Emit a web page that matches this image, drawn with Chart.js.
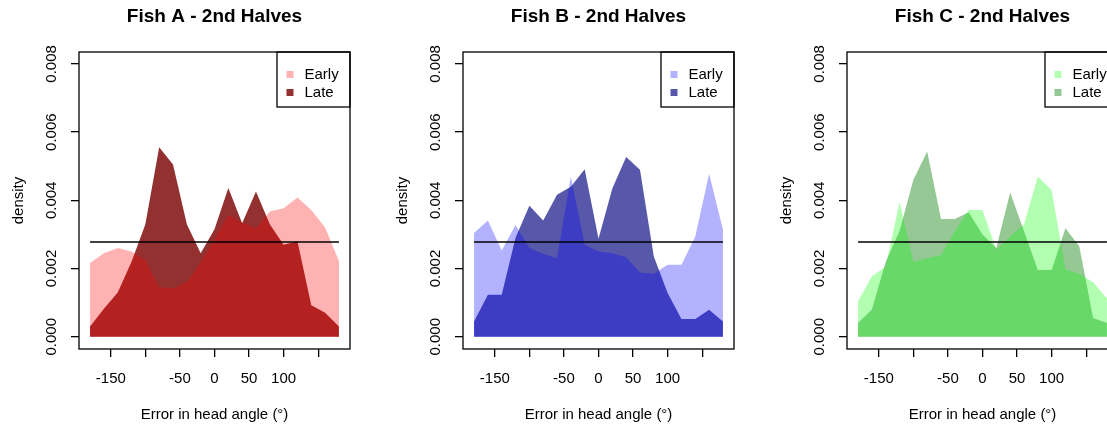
<!DOCTYPE html>
<html><head><meta charset="utf-8">
<script src="https://cdn.jsdelivr.net/npm/chart.js@4.4.1/dist/chart.umd.min.js"></script>
<style>
html,body{margin:0;padding:0;background:#fff;overflow:hidden;width:1107px;height:426px;}
.panel{position:absolute;top:0;width:384px;height:426px;}
</style></head><body>
<div class="panel" style="left:0px"><canvas id="cA"></canvas></div>
<div class="panel" style="left:384px"><canvas id="cB"></canvas></div>
<div class="panel" style="left:768px"><canvas id="cC"></canvas></div>
<script>
// ---- data ----
const angles = [-180,-160,-140,-120,-100,-80,-60,-40,-20,0,20,40,60,80,100,120,140,160,180];
const panelTitles = ['Fish A - 2nd Halves','Fish B - 2nd Halves','Fish C - 2nd Halves'];
const seriesLabels = ['Early','Late'];
const fishAEarly = [0.00216,0.00245,0.00260,0.00250,0.00225,0.00145,0.00142,0.00160,0.00217,0.00286,0.00357,0.00335,0.00318,0.00367,0.00377,0.00408,0.00372,0.00320,0.00222];
const fishALate  = [0.00030,0.00082,0.00130,0.00220,0.00330,0.00556,0.00505,0.00330,0.00245,0.00315,0.00436,0.00333,0.00426,0.00330,0.00270,0.00280,0.00092,0.00070,0.00030];
const fishBEarly = [0.00304,0.00341,0.00253,0.00328,0.00260,0.00243,0.00230,0.00470,0.00270,0.00250,0.00245,0.00233,0.00188,0.00185,0.00211,0.00211,0.00294,0.00478,0.00314];
const fishBLate  = [0.00045,0.00123,0.00123,0.00290,0.00384,0.00341,0.00416,0.00440,0.00491,0.00287,0.00435,0.00527,0.00490,0.00235,0.00128,0.00052,0.00052,0.00079,0.00045];
const fishCEarly = [0.00104,0.00177,0.00205,0.00396,0.00220,0.00230,0.00240,0.00310,0.00372,0.00372,0.00255,0.00295,0.00330,0.00470,0.00430,0.00197,0.00185,0.00160,0.00113];
const fishCLate  = [0.00040,0.00080,0.00220,0.00310,0.00460,0.00543,0.00345,0.00345,0.00365,0.00300,0.00260,0.00423,0.00310,0.00196,0.00196,0.00318,0.00265,0.00055,0.00040];
const uniformDensity = 0.002778;
const xTickValues = [-150,-100,-50,0,50,100,150];
const xTickLabels = ['-150','','-50','0','50','100',''];
const yTickValues = [0,0.002,0.004,0.006,0.008];
const yTickLabels = ['0.000','0.002','0.004','0.006','0.008'];
const xTitle = 'Error in head angle (°)';
const yTitle = 'density';

const FONT = '"Liberation Sans", Arial, Helvetica, sans-serif';

const deco = {
  id: 'deco',
  afterDraw(chart, args, opts) {
    const ctx = chart.ctx, a = chart.chartArea, ys = chart.scales.y;
    ctx.save();
    ctx.strokeStyle = '#000'; ctx.lineWidth = 1.3;
    ctx.strokeRect(a.left, a.top, a.right - a.left, a.bottom - a.top);
    ctx.fillStyle = '#000';
    ctx.font = 'bold 19px ' + FONT;
    ctx.textAlign = 'center'; ctx.textBaseline = 'middle';
    ctx.fillText(opts.title, (a.left + a.right) / 2, 17);
    ctx.font = '15px ' + FONT;
    yTickValues.forEach((v, i) => {
      const py = ys.getPixelForValue(v);
      ctx.save();
      ctx.translate(a.left - 23, py);
      ctx.rotate(-Math.PI / 2);
      ctx.textAlign = 'center'; ctx.textBaseline = 'alphabetic';
      ctx.fillText(yTickLabels[i], 0, 0);
      ctx.restore();
    });
    // legend
    const lx = a.right - 73, ly = a.top, lw = 73, lh = 55;
    ctx.strokeRect(lx, ly, lw, lh);
    const ds = chart.data.datasets.filter(d => d.legendColor);
    ds.forEach((d, i) => {
      const cy = ly + 22.5 + i * 18;
      ctx.fillStyle = d.legendColor;
      ctx.fillRect(lx + 9.5, cy - 3.5, 7, 7);
      ctx.fillStyle = '#000';
      ctx.textAlign = 'left'; ctx.textBaseline = 'middle';
      ctx.fillText(d.label, lx + 27.5, cy);
    });
    ctx.restore();
  }
};

function makePanel(id, title, early, late, earlyFill, earlyLegend, lateFill) {
  const tickFont = {family: FONT, size: 15};
  new Chart(document.getElementById(id), {
    type: 'line',
    data: {
      datasets: [
        {label: 'uniform', data: [{x: angles[0], y: uniformDensity}, {x: angles[angles.length - 1], y: uniformDensity}],
         borderColor: '#000', borderWidth: 1.5, pointRadius: 0, fill: false, order: 0},
        {label: seriesLabels[0], data: angles.map((v, i) => ({x: v, y: early[i]})),
         backgroundColor: earlyFill, borderColor: 'rgba(0,0,0,0)', borderWidth: 0, pointRadius: 0, fill: 'origin', tension: 0, order: 1, legendColor: earlyLegend},
        {label: seriesLabels[1], data: angles.map((v, i) => ({x: v, y: late[i]})),
         backgroundColor: lateFill, borderColor: 'rgba(0,0,0,0)', borderWidth: 0, pointRadius: 0, fill: 'origin', tension: 0, order: 2, legendColor: lateFill}
      ]
    },
    options: {
      responsive: true, maintainAspectRatio: false, animation: false, devicePixelRatio: 1,
      layout: {padding: {top: 52, right: 34, left: 0, bottom: 0}},
      plugins: {legend: {display: false}, tooltip: {enabled: false}, deco: {title: title}},
      scales: {
        x: {
          type: 'linear', min: -196, max: 196,
          afterBuildTicks: s => { s.ticks = xTickValues.map(v => ({value: v})); },
          afterFit: s => { s.height = 77; },
          grid: {display: true, drawOnChartArea: false, drawTicks: true, tickLength: 8, color: '#000', lineWidth: 1.3},
          border: {display: false},
          ticks: {font: tickFont, color: '#000', padding: 13, autoSkip: false, maxRotation: 0, minRotation: 0,
                  callback: v => { const k = xTickValues.indexOf(v); return k >= 0 ? xTickLabels[k] : ''; }},
          title: {display: true, text: xTitle, font: tickFont, color: '#000', padding: {top: 0, bottom: 2}}
        },
        y: {
          type: 'linear', min: -0.00036, max: 0.00835,
          afterBuildTicks: s => { s.ticks = yTickValues.map(v => ({value: v})); },
          afterFit: s => { s.width = 79; },
          grid: {display: true, drawOnChartArea: false, drawTicks: true, tickLength: 8, color: '#000', lineWidth: 1.3},
          border: {display: false},
          ticks: {display: false},
          title: {display: true, text: yTitle, font: tickFont, color: '#000', padding: {top: 10, bottom: 0}}
        }
      }
    },
    plugins: [deco]
  });
}

makePanel('cA', panelTitles[0], fishAEarly, fishALate, 'rgba(255,0,0,0.3)', 'rgb(255,178,178)', 'rgb(147,48,48)');
makePanel('cB', panelTitles[1], fishBEarly, fishBLate, 'rgba(0,0,255,0.3)', 'rgb(178,178,255)', 'rgb(88,88,170)');
makePanel('cC', panelTitles[2], fishCEarly, fishCLate, 'rgba(0,255,0,0.3)', 'rgb(178,255,178)', 'rgb(150,200,150)');
</script>
</body></html>
